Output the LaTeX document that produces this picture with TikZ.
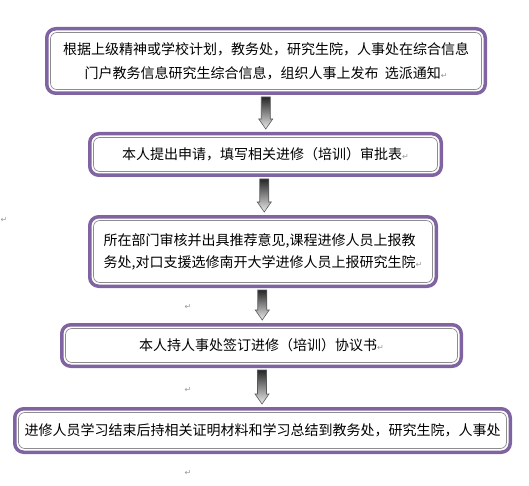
\documentclass[tikz,border=0pt]{standalone}
\usepackage{fontspec}
\newfontfamily\cjk{Noto Sans CJK SC}
\newfontfamily\dejavu{DejaVu Sans}
\usetikzlibrary{positioning, calc}
\definecolor{frame}{HTML}{8064A2}
\definecolor{rim}{HTML}{8C8C8C}

\newcommand\retmark{{\dejavu\fontsize{8}{8}\selectfont\color{black!40}↵}}
\newcommand\flowarrow[2]{%
  \shade[top color=black!85, bottom color=black!8, draw=black!65, line width=0.6pt]
    let \p1=($(#1.south)!0.5!(#2.north)$), \p2=(#1.south), \p3=(#2.north) in
    (\x1-4.5pt,\y2-2pt) -- (\x1+4.5pt,\y2-2pt) -- (\x1+4.5pt,\y3+13pt)
    -- (\x1+7pt,\y3+13pt) -- (\x1,\y3+3pt) -- (\x1-7pt,\y3+13pt)
    -- (\x1-4.5pt,\y3+13pt) -- cycle;}

\begin{document}
\begin{tikzpicture}[
    x=1pt, y=-1pt,
    stagebox/.style={
        draw=frame,
        line width=3.5pt,
        rounded corners=9pt,
        fill=white,
        align=center,
        inner sep=4pt,
        font=\cjk\fontsize{14}{24}\selectfont,
        path picture={
            \draw[rim, line width=0.7pt, rounded corners=6pt]
                ([shift={(3.8pt,3.8pt)}]path picture bounding box.south west)
                rectangle ([shift={(-3.8pt,-3.8pt)}]path picture bounding box.north east);
        }
    },
    parmark/.style={inner sep=0pt}
]
\useasboundingbox (0,0) rectangle (529,486);

\node[stagebox, minimum width=438.5pt, minimum height=64.5pt] (B1) at (266,61)
    {根据上级精神或学校计划，教务处，研究生院，人事处在综合信息\\门户教务信息研究生综合信息，组织人事上发布\ \ 选派通知\retmark};
\node[stagebox, below=37pt of B1, xshift=-0.5pt, minimum width=351.5pt, minimum height=41.5pt] (B2)
    {本人提出申请，填写相关进修（培训）审批表\retmark};
\node[stagebox, below=38pt of B2, xshift=-2.5pt, minimum width=346.5pt, minimum height=69.5pt,
    align=left, font=\cjk\fontsize{14}{22}\selectfont] (B3)
    {所在部门审核并出具推荐意见,课程进修人员上报教\\务处,对口支援选修南开大学进修人员上报研究生院\retmark};
\node[stagebox, below=35pt of B3, xshift=-1.5pt, minimum width=399.5pt, minimum height=41.5pt] (B4)
    {本人持人事处签订进修（培训）协议书\retmark};
\node[stagebox, below=39pt of B4, xshift=1pt, minimum width=495.5pt, minimum height=43.5pt] (B5)
    {进修人员学习结束后持相关证明材料和学习总结到教务处，研究生院，人事处};

\flowarrow{B1}{B2}
\flowarrow{B2}{B3}
\flowarrow{B3}{B4}
\flowarrow{B4}{B5}

% stray paragraph marks
\node[parmark] (m1) at (188,307) {\retmark};
\node[parmark] (m2) at (188,390) {\retmark};
\node[parmark] (m3) at (188,473) {\retmark};
\node[parmark] (m4) at (4,220) {\retmark};

\end{tikzpicture}
\end{document}
